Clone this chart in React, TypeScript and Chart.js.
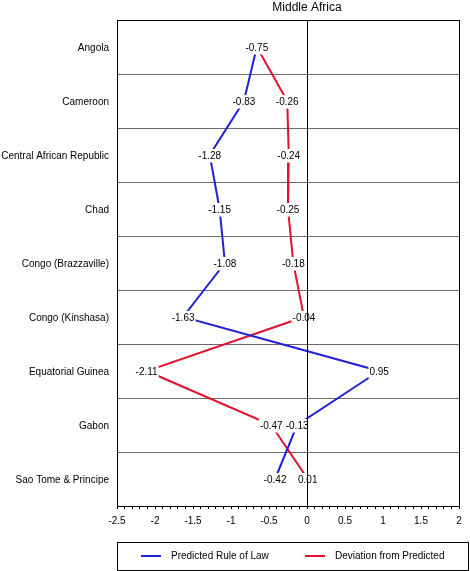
import React, { useEffect, useRef } from "react";
import { Chart, registerables } from "chart.js";

Chart.register(...registerables);

const categories = [
  "Angola",
  "Cameroon",
  "Central African Republic",
  "Chad",
  "Congo (Brazzaville)",
  "Congo (Kinshasa)",
  "Equatorial Guinea",
  "Gabon",
  "Sao Tome & Principe",
];
const predictedValues = [-0.66, -0.83, -1.28, -1.15, -1.08, -1.63, 0.95, -0.13, -0.42];
const deviationValues = [-0.66, -0.26, -0.24, -0.25, -0.18, -0.04, -2.11, -0.47, 0.01];
const predictedLabels = ["-0.75", "-0.83", "-1.28", "-1.15", "-1.08", "-1.63", "0.95", "-0.13", "-0.42"];
const deviationLabels = ["", "-0.26", "-0.24", "-0.25", "-0.18", "-0.04", "-2.11", "-0.47", "0.01"];
const seriesNames = ["Predicted Rule of Law", "Deviation from Predicted"];
const title = "Middle Africa";

const FONT = '"Liberation Sans", Arial, Helvetica, sans-serif';
const BLUE = "#2222d2";
const RED = "#e0122c";

const overlayPlugin = {
  id: "overlay",
  afterDatasetsDraw(chart: any) {
    const ctx = chart.ctx;
    const area = chart.chartArea;
    const xs = chart.scales.x;
    ctx.save();
    ctx.font = `10px ${FONT}`;
    ctx.textAlign = "center";
    ctx.textBaseline = "middle";
    const labelSets = [predictedLabels, deviationLabels];
    chart.data.datasets.forEach((ds: any, di: number) => {
      const meta = chart.getDatasetMeta(di);
      meta.data.forEach((pt: any, i: number) => {
        const txt = labelSets[di][i];
        if (!txt) return;
        const w = ctx.measureText(txt).width;
        ctx.fillStyle = "#fff";
        ctx.fillRect(pt.x - w / 2 - 1, pt.y - 6, w + 2, 13.5);
        ctx.fillStyle = "#000";
        ctx.fillText(txt, pt.x, pt.y + 1.5);
      });
    });
    // zero line
    const x0 = Math.round(xs.getPixelForValue(0)) + 0.5;
    ctx.strokeStyle = "#000";
    ctx.lineWidth = 1;
    ctx.beginPath();
    ctx.moveTo(x0, area.top);
    ctx.lineTo(x0, area.bottom);
    ctx.stroke();
    // frame
    ctx.strokeRect(
      Math.round(area.left) + 0.5,
      Math.round(area.top) + 0.5,
      Math.round(area.right - area.left),
      Math.round(area.bottom - area.top)
    );
    ctx.restore();
  },
  afterDraw(chart: any) {
    const ctx = chart.ctx;
    const area = chart.chartArea;
    const xs = chart.scales.x;
    ctx.save();
    // title
    ctx.font = `12px ${FONT}`;
    ctx.fillStyle = "#000";
    ctx.textAlign = "center";
    ctx.textBaseline = "middle";
    ctx.fillText(title, xs.getPixelForValue(0), 8);
    // legend
    const lx = Math.round(area.left) + 0.5;
    const ly = 542.5;
    const lw = 351;
    const lh = 28;
    ctx.strokeStyle = "#000";
    ctx.lineWidth = 1;
    ctx.strokeRect(lx, ly, lw, lh);
    const items = [
      { color: BLUE, x: 141, name: seriesNames[0] },
      { color: RED, x: 305, name: seriesNames[1] },
    ];
    ctx.font = `10px ${FONT}`;
    ctx.textAlign = "left";
    items.forEach((it) => {
      ctx.strokeStyle = it.color;
      ctx.lineWidth = 2;
      ctx.beginPath();
      ctx.moveTo(it.x, 556);
      ctx.lineTo(it.x + 20, 556);
      ctx.stroke();
      ctx.fillStyle = "#000";
      ctx.fillText(it.name, it.x + 30, 556.5);
    });
    ctx.restore();
  },
};

export default function App() {
  const ref = useRef<HTMLCanvasElement | null>(null);
  useEffect(() => {
    if (!ref.current) return;
    const chart = new Chart(ref.current, {
      type: "line",
      data: {
        labels: categories,
        datasets: [
          {
            label: seriesNames[0],
            data: predictedValues,
            borderColor: BLUE,
            backgroundColor: BLUE,
            borderWidth: 2,
            pointRadius: 0,
            tension: 0,
          },
          {
            label: seriesNames[1],
            data: deviationValues,
            borderColor: RED,
            backgroundColor: RED,
            borderWidth: 2,
            pointRadius: 0,
            tension: 0,
          },
        ],
      },
      options: {
        indexAxis: "y",
        animation: false,
        responsive: false,
        devicePixelRatio: 1,
        layout: { padding: { left: 0, right: 11, top: 20, bottom: 0 } },
        plugins: {
          legend: { display: false },
          title: { display: false },
          tooltip: { enabled: false },
        },
        scales: {
          x: {
            type: "linear",
            min: -2.5,
            max: 2,
            ticks: {
              stepSize: 0.1,
              autoSkip: false,
              maxRotation: 0,
              padding: 6,
              color: "#000",
              font: { family: FONT, size: 10 },
              callback: (v: any) => {
                const n = Number(v);
                if (Math.abs(n * 2 - Math.round(n * 2)) < 1e-6) {
                  const r = Math.round(n * 2) / 2;
                  return String(r === 0 ? 0 : r);
                }
                return "";
              },
            },
            grid: {
              drawOnChartArea: false,
              drawTicks: true,
              tickLength: 3,
              tickColor: "#000",
              color: "#000",
            },
            border: { display: true, color: "#000", width: 1 },
            afterFit: (scale: any) => {
              scale.height = 65;
            },
          },
          y: {
            type: "category",
            offset: true,
            ticks: {
              color: "#000",
              padding: 8,
              labelOffset: 1.5,
              font: { family: FONT, size: 10 },
            },
            grid: {
              offset: true,
              color: "#6a6a6a",
              lineWidth: 1,
              drawTicks: false,
            },
            border: { display: true, color: "#000" },
            afterFit: (scale: any) => {
              scale.width = 117;
            },
          },
        },
      },
      plugins: [overlayPlugin],
    } as any);
    return () => chart.destroy();
  }, []);
  return (
    <div style={{ position: "fixed", left: 0, top: 0, width: 470, height: 571, background: "#fff" }}>
      <canvas ref={ref} width={470} height={571} style={{ width: 470, height: 571, display: "block" }} />
    </div>
  );
}
